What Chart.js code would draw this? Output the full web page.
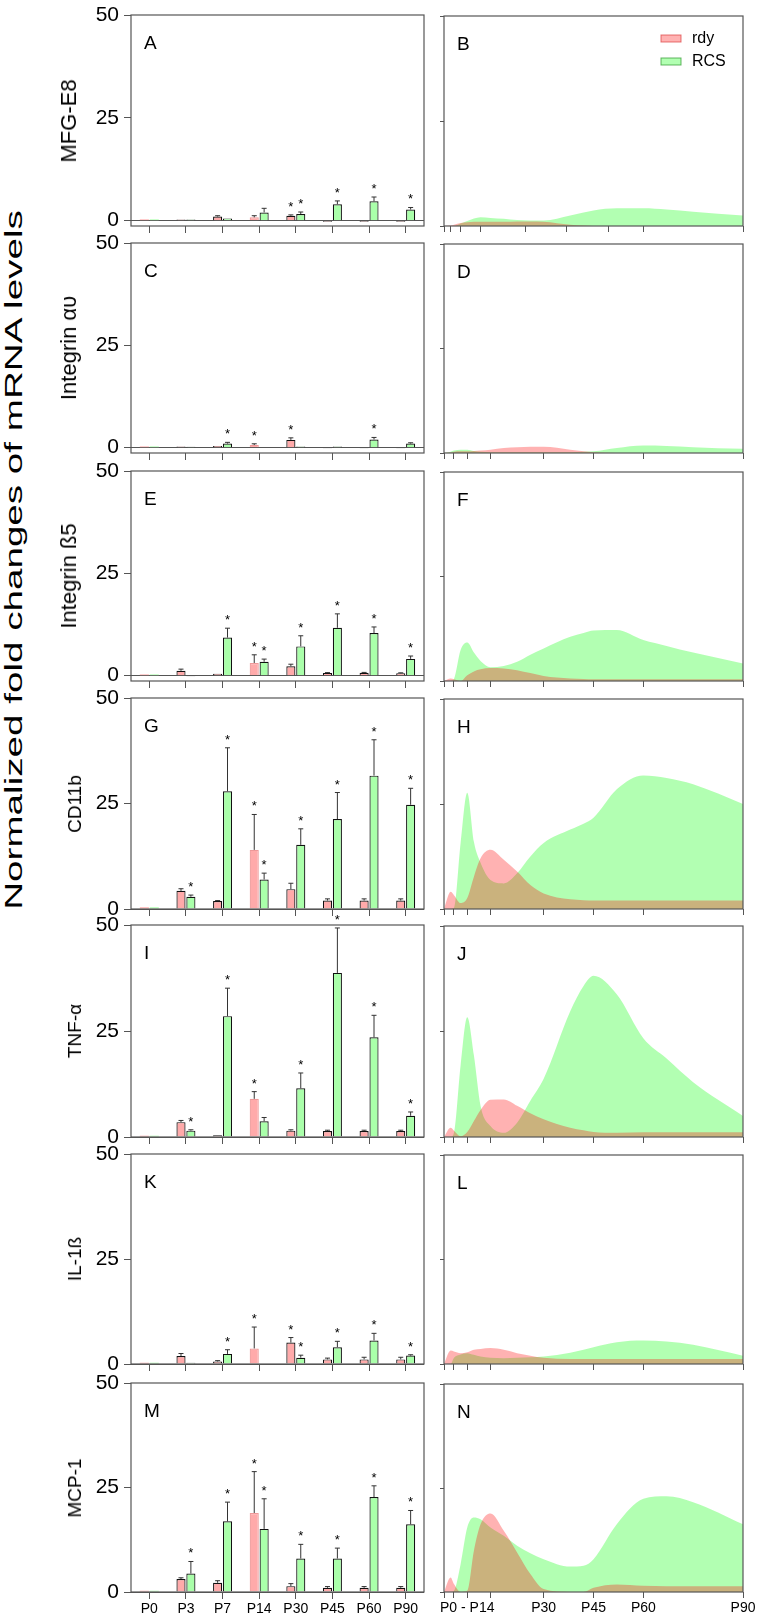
<!DOCTYPE html>
<html>
<head>
<meta charset="utf-8">
<script src="https://cdn.jsdelivr.net/npm/chart.js@4.4.1/dist/chart.umd.min.js"></script>
<style>
  body { margin: 0; background: #fff; width: 762px; height: 1623px; position: relative; overflow: hidden;
         font-family: 'Liberation Sans', Arial, sans-serif; }
  canvas { position: absolute; }
  .rl { position: absolute; transform: translate(-50%, -50%) rotate(-90deg); white-space: nowrap; color: #000; }
</style>
</head>
<body>
<script>
const categories = ["P0", "P3", "P7", "P14", "P30", "P45", "P60", "P90"];
const genes = ["MFG-E8", "Integrin αυ", "Integrin ß5", "CD11b", "TNF-α", "IL-1ß", "MCP-1"];
const leftLetters = ["A", "C", "E", "G", "I", "K", "M"];
const rightLetters = ["B", "D", "F", "H", "J", "L", "N"];
const yTicks = [0, 25, 50];

// bar panels: mean and error per gene (rows A, C, E, G, I, K, M)
const rdyMeans = [
  [0.3, 0.3, 1.0, 0.8, 1.2, -0.3, -0.3, -0.3],
  [0.3, 0.3, 0.4, 0.65, 1.9, -0.2, -0.2, -0.2],
  [0.3, 1.2, 0.5, 3.1, 2.3, 0.65, 0.7, 0.6],
  [0.4, 4.3, 1.9, 14.0, 4.7, 2.0, 2.0, 2.0],
  [0.3, 3.5, 0.4, 9.0, 1.5, 1.4, 1.4, 1.4],
  [0.3, 1.9, 0.6, 3.7, 5.1, 1.1, 1.1, 1.1],
  [0.3, 3.1, 2.2, 18.9, 1.4, 1.0, 1.0, 1.0]
];
const rdyErrs = [
  [0, 0, 0.2, 0.4, 0.2, 0, 0, 0],
  [0, 0, 0, 0.3, 0.5, 0, 0, 0],
  [0, 0.4, 0, 2.0, 0.5, 0.1, 0.1, 0.1],
  [0, 0.5, 0.1, 8.4, 1.4, 0.4, 0.4, 0.4],
  [0, 0.4, 0, 1.7, 0.2, 0.2, 0.2, 0.2],
  [0, 0.6, 0.2, 5.1, 1.2, 0.3, 0.5, 0.5],
  [0, 0.3, 0.5, 9.9, 0.6, 0.3, 0.3, 0.3]
];
const rcsMeans = [
  [0.3, 0.3, 0.5, 2.0, 1.6, 4.0, 4.7, 2.7],
  [0.3, 0.2, 1.0, 0.1, 0.3, 0.3, 2.0, 1.0],
  [0.3, -0.2, 9.3, 3.4, 7.15, 11.7, 10.4, 4.1],
  [0.4, 2.9, 27.9, 7.0, 15.2, 21.3, 31.6, 24.7],
  [0.3, 1.5, 28.5, 3.7, 11.5, 38.7, 23.5, 5.0],
  [0.3, 0.3, 2.4, 0.1, 1.5, 4.0, 5.6, 2.0],
  [0.3, 4.4, 16.9, 15.1, 8.0, 8.0, 22.7, 16.2]
];
const rcsErrs = [
  [0, 0, 0, 1.0, 0.5, 0.8, 1.05, 0.5],
  [0, 0, 0.3, 0, 0, 0, 0.5, 0.2],
  [0, 0, 2.3, 0.65, 2.6, 3.4, 1.5, 0.7],
  [0, 0.4, 10.3, 1.5, 3.8, 6.3, 8.5, 3.9],
  [0, 0.2, 6.6, 0.9, 3.6, 10.6, 5.2, 0.9],
  [0, 0, 1.0, 0, 0.6, 1.4, 1.7, 0.2],
  [0, 2.9, 4.6, 7.2, 3.4, 2.5, 2.7, 3.3]
];
// significance marks (1 = asterisk)
const rdyStars = [
  [0, 0, 0, 0, 1, 0, 0, 0],
  [0, 0, 0, 1, 1, 0, 0, 0],
  [0, 0, 0, 1, 0, 0, 0, 0],
  [0, 0, 0, 1, 0, 0, 0, 0],
  [0, 0, 0, 1, 0, 0, 0, 0],
  [0, 0, 0, 1, 1, 0, 0, 0],
  [0, 0, 0, 1, 0, 0, 0, 0]
];
const rcsStars = [
  [0, 0, 0, 0, 1, 1, 1, 1],
  [0, 0, 1, 0, 0, 0, 1, 0],
  [0, 0, 1, 1, 1, 1, 1, 1],
  [0, 1, 1, 1, 1, 1, 1, 1],
  [0, 1, 1, 0, 1, 1, 1, 1],
  [0, 0, 1, 0, 1, 1, 1, 1],
  [0, 1, 1, 1, 1, 1, 1, 1]
];

// area panels: curves read at these days (rows B, D, F, H, J, L, N)
const days = [0, 2, 3, 5, 7, 9, 11, 14, 18, 22, 26, 30, 38, 42, 45, 52, 60, 67, 75, 90];
const rdyCurves = [
  [0, 0.1, 0.3, 0.7, 0.9, 1.0, 1.0, 1.0, 1.0, 1.1, 1.1, 1.0, 0.3, 0.1, 0, 0, 0, 0, 0, 0],
  [0, 0.1, 0.3, 0.4, 0.4, 0.5, 0.6, 0.8, 1.2, 1.4, 1.5, 1.5, 0.8, 0.4, 0.2, 0, 0, 0, 0, 0],
  [0, 0.6, 0.4, 0, 1.4, 2.3, 2.8, 3.1, 3.0, 2.6, 1.9, 1.2, 0.6, 0.5, 0.4, 0.4, 0.4, 0.4, 0.4, 0.4],
  [0, 4.1, 3.3, 1.4, 2.6, 7.7, 12.1, 14.1, 11.7, 8.9, 5.7, 3.7, 2.3, 2.1, 2.0, 2.0, 2.0, 2.0, 2.0, 2.0],
  [0, 2.2, 1.5, 0.2, 1.2, 3.8, 6.4, 8.8, 8.9, 7.4, 5.6, 4.2, 2.2, 1.6, 1.2, 1.0, 1.1, 1.1, 1.1, 1.1],
  [0, 3.2, 3.0, 2.6, 2.8, 3.4, 3.6, 3.8, 3.4, 2.6, 2.0, 1.5, 1.2, 1.2, 1.2, 1.2, 1.2, 1.2, 1.2, 1.2],
  [0, 3.5, 1.9, 0, 0.3, 9.9, 16.3, 18.9, 14.7, 9.5, 4.3, 0.7, 0, 0, 1.0, 1.8, 1.5, 1.4, 1.4, 1.4]
];
const rcsCurves = [
  [0, 0, 0, 0.6, 1.2, 1.8, 2.1, 1.9, 1.7, 1.4, 1.3, 1.3, 2.5, 3.2, 3.7, 4.2, 4.2, 3.9, 3.4, 2.5],
  [0, 0.3, 0.6, 0.8, 0.8, 0.5, 0.3, 0.2, 0.2, 0.2, 0.2, 0.2, 0.2, 0.3, 0.4, 1.2, 1.8, 1.7, 1.4, 1.0],
  [0, 0, 0.5, 7.4, 9.2, 6.8, 4.8, 3.3, 3.6, 4.6, 6.3, 7.8, 10.6, 11.5, 12.1, 12.2, 9.8, 8.4, 6.8, 4.2],
  [0, 0, 0.3, 15.7, 27.7, 16, 11, 6.9, 6.1, 8.5, 12.5, 15.7, 18.9, 20.3, 21.7, 28.5, 31.8, 31.2, 29.7, 25],
  [0, 0, 1.0, 17, 28.4, 19.4, 7.4, 2.6, 1.0, 3.4, 8.6, 13.8, 29.8, 35.8, 38.2, 33.8, 23.4, 18.6, 13, 5],
  [0, 0, 1.5, 2.3, 2.6, 2.2, 1.8, 1.5, 1.4, 1.5, 1.6, 1.8, 2.7, 3.4, 4.0, 5.2, 5.6, 5.4, 4.6, 2.0],
  [0, 0, 0.3, 6.7, 15.5, 17.9, 17.5, 15.5, 13.5, 11.1, 9.3, 7.9, 6.1, 6.3, 7.9, 16.3, 22.4, 23.0, 21.6, 16.3]
];
const rightTickDays = [0, 3, 7, 14, 30, 45, 60, 90];
const rightTickLabels = ["", "", "P0 - P14", "", "P30", "P45", "P60", "P90"];
const panelBTickDays = [0, 2, 5, 11, 24.6, 37, 49.6, 60.2, 90];

// layout
const rowTops = [15, 243, 471, 698, 925, 1154, 1383];
const rowBottoms = [226, 453, 681, 909, 1137, 1364, 1592];
const leftMins = [-1.3, -1.3, -1.3, 0, 0, 0, 0];
const LEFT_X = 131, LEFT_W = 293, RIGHT_X = 444, RIGHT_W = 299;
const PADT = 20, PADB = 12;
const FONT = "'Liberation Sans', Arial, sans-serif";
const frameColor = "#555";

Chart.defaults.font.family = FONT;
Chart.defaults.color = "#000";

function makeCanvas(left, top, width, height) {
  const c = document.createElement("canvas");
  c.width = width;
  c.height = height;
  c.style.left = left + "px";
  c.style.top = top + "px";
  document.body.appendChild(c);
  return c.getContext("2d");
}

function addLabel(text, x, y, size, span) {
  const d = document.createElement("div");
  d.className = "rl";
  d.textContent = text;
  d.style.left = x + "px";
  d.style.top = y + "px";
  d.style.fontSize = size + "px";
  document.body.appendChild(d);
  if (span) {
    const k = span / d.offsetWidth;
    d.style.transform = "translate(-50%, -50%) rotate(-90deg) scaleX(" + k + ")";
  }
}

const framePlugin = {
  id: "frame",
  afterDraw(chart, args, opts) {
    const { ctx, chartArea: a } = chart;
    ctx.save();
    ctx.strokeStyle = frameColor;
    ctx.lineWidth = 1.2;
    ctx.strokeRect(a.left, a.top, a.right - a.left, a.bottom - a.top);
    ctx.fillStyle = "#000";
    ctx.font = "19px " + FONT;
    ctx.textAlign = "left";
    ctx.textBaseline = "alphabetic";
    ctx.fillText(opts.letter, a.left + 13, a.top + 34);
    if (opts.legend) {
      ctx.font = "16px " + FONT;
      ctx.textBaseline = "middle";
      chart.data.datasets.forEach((ds, i) => {
        const y = a.top + 19 + i * 23;
        ctx.fillStyle = ds.backgroundColor;
        ctx.fillRect(a.right - 82, y, 20, 7);
        ctx.strokeStyle = ds.legendEdge;
        ctx.lineWidth = 1;
        ctx.strokeRect(a.right - 82, y, 20, 7);
        ctx.fillStyle = "#000";
        ctx.fillText(ds.label, a.right - 51, y + 4);
      });
    }
    ctx.restore();
  }
};

const errorBarPlugin = {
  id: "errbars",
  afterDatasetsDraw(chart) {
    const { ctx } = chart;
    const y = chart.scales.y;
    ctx.save();
    ctx.strokeStyle = "#333";
    ctx.lineWidth = 1;
    ctx.fillStyle = "#000";
    ctx.font = "13px " + FONT;
    ctx.textAlign = "center";
    ctx.textBaseline = "alphabetic";
    chart.data.datasets.forEach((ds, di) => {
      chart.getDatasetMeta(di).data.forEach((bar, i) => {
        const v = ds.data[i], e = ds.errors[i];
        let top = y.getPixelForValue(Math.max(v, 0));
        if (e > 0) {
          const cap = y.getPixelForValue(v + e);
          ctx.beginPath();
          ctx.moveTo(bar.x, y.getPixelForValue(v));
          ctx.lineTo(bar.x, cap);
          ctx.moveTo(bar.x - 2.5, cap);
          ctx.lineTo(bar.x + 2.5, cap);
          ctx.stroke();
          top = cap;
        }
        if (ds.stars[i]) ctx.fillText("*", bar.x, top - 4);
      });
    });
    ctx.restore();
  }
};

const edgeWidth = [0, 1.2, 1.2, 1.2, 1.2, 1.2, 1.2, 1.2];
const rdyEdge = ["#ffaaaa", "#111", "#111", "#ee9999", "#111", "#111", "#111", "#111"];
const rcsEdge = ["#aaffaa", "#111", "#111", "#111", "#111", "#111", "#111", "#111"];

function leftChart(g) {
  const top = rowTops[g], bottom = rowBottoms[g];
  const last = g === genes.length - 1;
  const xH = last ? 30 : 8;
  const ctx = makeCanvas(LEFT_X - 50, top - PADT, 50 + LEFT_W + 14, PADT + (bottom - top) + xH + PADB);
  new Chart(ctx, {
    type: "bar",
    data: {
      labels: categories,
      datasets: [
        { label: "rdy", data: rdyMeans[g], errors: rdyErrs[g], stars: rdyStars[g],
          backgroundColor: "#ffaaaa", borderColor: rdyEdge, borderWidth: edgeWidth },
        { label: "RCS", data: rcsMeans[g], errors: rcsErrs[g], stars: rcsStars[g],
          backgroundColor: "#aaffaa", borderColor: rcsEdge, borderWidth: edgeWidth }
      ]
    },
    options: {
      responsive: false, animation: false, devicePixelRatio: 1,
      layout: { padding: { top: PADT, right: 14, left: 0, bottom: PADB } },
      datasets: { bar: { categoryPercentage: 0.54, barPercentage: 0.92 } },
      plugins: { legend: { display: false }, tooltip: { enabled: false }, frame: { letter: leftLetters[g] } },
      scales: {
        x: {
          border: { display: false },
          grid: { offset: false, drawOnChartArea: false, tickLength: 7, tickColor: frameColor },
          ticks: { display: last, font: { size: 14 }, padding: 2, maxRotation: 0, autoSkip: false },
          afterFit: s => { s.height = xH; }
        },
        y: {
          min: leftMins[g], max: 50,
          afterBuildTicks: s => { s.ticks = yTicks.map(v => ({ value: v })); },
          border: { display: false },
          grid: { color: c => (c.tick && c.tick.value === 0 ? frameColor : "rgba(0,0,0,0)"),
                  tickColor: frameColor, tickLength: 7 },
          ticks: { font: { size: 21 }, padding: 5 },
          afterFit: s => { s.width = 50; }
        }
      }
    },
    plugins: [framePlugin, errorBarPlugin]
  });
}

function rightChart(g) {
  const top = rowTops[g] + 1, bottom = rowBottoms[g];
  const last = g === genes.length - 1;
  const xH = last ? 30 : 8;
  const tickDays = g === 0 ? panelBTickDays : rightTickDays;
  const ctx = makeCanvas(RIGHT_X - 12, top - PADT, 12 + RIGHT_W + 16, PADT + (bottom - top) + xH + PADB);
  const pts = arr => days.map((d, i) => ({ x: d, y: arr[i] }));
  new Chart(ctx, {
    type: "line",
    data: {
      datasets: [
        { label: "rdy", data: pts(rdyCurves[g]), backgroundColor: "rgba(255,0,0,0.3)", legendEdge: "rgba(220,60,60,0.7)" },
        { label: "RCS", data: pts(rcsCurves[g]), backgroundColor: "rgba(0,255,0,0.3)", legendEdge: "rgba(40,150,40,0.7)" }
      ]
    },
    options: {
      responsive: false, animation: false, devicePixelRatio: 1,
      layout: { padding: { top: PADT, right: 16, left: 0, bottom: PADB } },
      elements: {
        line: { fill: "origin", borderWidth: 0, cubicInterpolationMode: "monotone" },
        point: { radius: 0 }
      },
      plugins: { legend: { display: false }, tooltip: { enabled: false },
                 frame: { letter: rightLetters[g], legend: g === 0 } },
      scales: {
        x: {
          type: "linear", min: 0, max: 90,
          afterBuildTicks: s => { s.ticks = tickDays.map(v => ({ value: v })); },
          border: { display: false },
          grid: { drawOnChartArea: false, tickLength: 6, tickColor: frameColor },
          ticks: {
            display: last, font: { size: 14 }, padding: 2, maxRotation: 0, autoSkip: false,
            callback: v => { const k = rightTickDays.indexOf(v); return k >= 0 ? rightTickLabels[k] : ""; }
          },
          afterFit: s => { s.height = xH; }
        },
        y: {
          min: 0, max: 50,
          afterBuildTicks: s => { s.ticks = yTicks.map(v => ({ value: v })); },
          border: { display: false },
          grid: { drawOnChartArea: false, tickLength: 4, tickColor: frameColor },
          ticks: { display: false },
          afterFit: s => { s.width = 12; }
        }
      }
    },
    plugins: [framePlugin]
  });
}

genes.forEach((name, g) => {
  leftChart(g);
  rightChart(g);
  const mid = (rowTops[g] + rowBottoms[g]) / 2;
  addLabel(name, g < 3 ? 69 : 75, mid, g < 3 ? 22 : 19);
});
addLabel("Normalized fold changes of mRNA levels", 14, 560, 23, 700);
</script>
</body>
</html>
